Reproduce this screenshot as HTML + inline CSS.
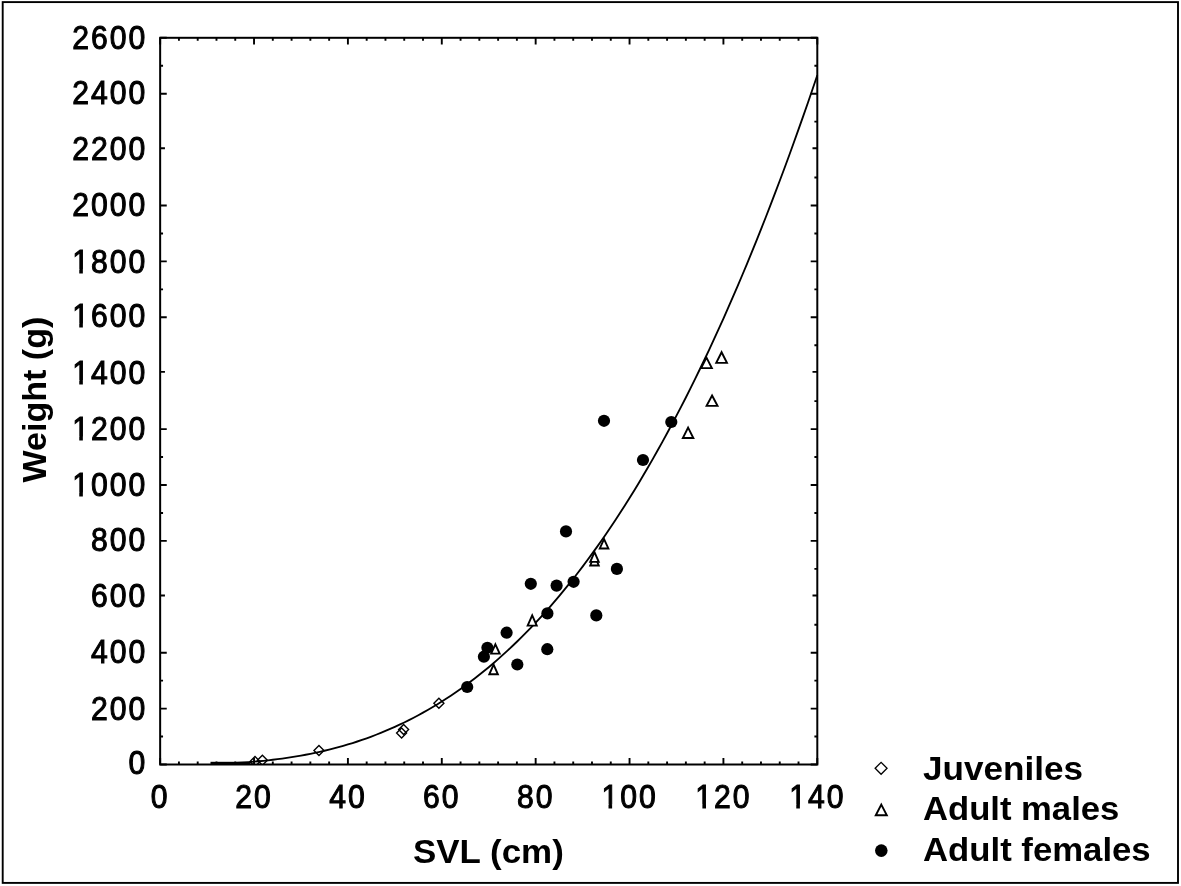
<!DOCTYPE html>
<html><head><meta charset="utf-8"><title>Weight vs SVL</title>
<style>
html,body{margin:0;padding:0;background:#fff;}
svg{display:block;}
text{font-family:"Liberation Sans",sans-serif;fill:#000;}
.tl{font-size:33.5px;stroke:#000;stroke-width:1.05px;letter-spacing:2.2px;}
.b{font-size:33.5px;font-weight:bold;}
</style></head><body>
<svg width="1181" height="886" viewBox="0 0 1181 886">
<rect x="0" y="0" width="1181" height="886" fill="#fff"/>
<rect x="2.7" y="2.1" width="1175.3" height="880.8" fill="none" stroke="#000" stroke-width="1.9"/>
<defs><clipPath id="pc"><rect x="160.15" y="37.80" width="657.15" height="726.70"/></clipPath></defs>
<path d="M160.15 764.50v-6.60M160.15 37.80v6.60M178.93 764.50v-2.90M178.93 37.80v2.90M197.70 764.50v-2.90M197.70 37.80v2.90M216.48 764.50v-2.90M216.48 37.80v2.90M235.25 764.50v-2.90M235.25 37.80v2.90M254.03 764.50v-6.60M254.03 37.80v6.60M272.80 764.50v-2.90M272.80 37.80v2.90M291.58 764.50v-2.90M291.58 37.80v2.90M310.36 764.50v-2.90M310.36 37.80v2.90M329.13 764.50v-2.90M329.13 37.80v2.90M347.91 764.50v-6.60M347.91 37.80v6.60M366.68 764.50v-2.90M366.68 37.80v2.90M385.46 764.50v-2.90M385.46 37.80v2.90M404.23 764.50v-2.90M404.23 37.80v2.90M423.01 764.50v-2.90M423.01 37.80v2.90M441.79 764.50v-6.60M441.79 37.80v6.60M460.56 764.50v-2.90M460.56 37.80v2.90M479.34 764.50v-2.90M479.34 37.80v2.90M498.11 764.50v-2.90M498.11 37.80v2.90M516.89 764.50v-2.90M516.89 37.80v2.90M535.66 764.50v-6.60M535.66 37.80v6.60M554.44 764.50v-2.90M554.44 37.80v2.90M573.22 764.50v-2.90M573.22 37.80v2.90M591.99 764.50v-2.90M591.99 37.80v2.90M610.77 764.50v-2.90M610.77 37.80v2.90M629.54 764.50v-6.60M629.54 37.80v6.60M648.32 764.50v-2.90M648.32 37.80v2.90M667.09 764.50v-2.90M667.09 37.80v2.90M685.87 764.50v-2.90M685.87 37.80v2.90M704.65 764.50v-2.90M704.65 37.80v2.90M723.42 764.50v-6.60M723.42 37.80v6.60M742.20 764.50v-2.90M742.20 37.80v2.90M760.97 764.50v-2.90M760.97 37.80v2.90M779.75 764.50v-2.90M779.75 37.80v2.90M798.52 764.50v-2.90M798.52 37.80v2.90M817.30 764.50v-6.60M817.30 37.80v6.60M817.30 764.50h-6.60M160.15 764.50h6.60M817.30 736.55h-2.90M160.15 736.55h2.90M817.30 708.60h-6.60M160.15 708.60h6.60M817.30 680.65h-2.90M160.15 680.65h2.90M817.30 652.70h-6.60M160.15 652.70h6.60M817.30 624.75h-2.90M817.30 595.50h-4.80M160.15 595.50h4.80M817.30 568.85h-2.90M817.30 540.90h-6.60M160.15 540.90h6.60M817.30 512.95h-2.90M160.15 512.95h2.90M817.30 485.00h-6.60M160.15 485.00h6.60M817.30 457.05h-2.90M160.15 457.05h2.90M817.30 429.10h-6.60M160.15 429.10h6.60M817.30 401.15h-2.90M817.30 371.90h-4.80M160.15 371.90h4.80M817.30 345.25h-2.90M817.30 317.30h-6.60M160.15 317.30h6.60M817.30 289.35h-2.90M160.15 289.35h2.90M817.30 261.40h-6.60M160.15 261.40h6.60M817.30 233.45h-2.90M160.15 233.45h2.90M817.30 205.50h-6.60M160.15 205.50h6.60M817.30 177.55h-2.90M817.30 148.30h-4.80M160.15 148.30h4.80M817.30 121.65h-2.90M817.30 93.70h-6.60M160.15 93.70h6.60M817.30 65.75h-2.90M160.15 65.75h2.90M817.30 37.80h-6.60M160.15 37.80h6.60" stroke="#000" stroke-width="1.9" fill="none"/>
<path d="M211.78 763.98 L216.48 763.83 L221.17 763.66 L225.87 763.47 L230.56 763.24 L235.25 762.99 L239.95 762.71 L244.64 762.40 L249.33 762.05 L254.03 761.67 L258.72 761.25 L263.42 760.80 L268.11 760.30 L272.80 759.76 L277.50 759.19 L282.19 758.56 L286.89 757.89 L291.58 757.18 L296.27 756.42 L300.97 755.61 L305.66 754.74 L310.36 753.83 L315.05 752.86 L319.74 751.83 L324.44 750.75 L329.13 749.62 L333.83 748.42 L338.52 747.16 L343.21 745.84 L347.91 744.46 L352.60 743.01 L357.29 741.50 L361.99 739.92 L366.68 738.27 L371.38 736.55 L376.07 734.76 L380.76 732.90 L385.46 730.96 L390.15 728.95 L394.85 726.86 L399.54 724.70 L404.23 722.46 L408.93 720.13 L413.62 717.73 L418.32 715.24 L423.01 712.67 L427.70 710.01 L432.40 707.27 L437.09 704.44 L441.79 701.52 L446.48 698.51 L451.17 695.41 L455.87 692.22 L460.56 688.93 L465.26 685.55 L469.95 682.07 L474.64 678.49 L479.34 674.82 L484.03 671.04 L488.73 667.17 L493.42 663.19 L498.11 659.11 L502.81 654.92 L507.50 650.63 L512.19 646.23 L516.89 641.72 L521.58 637.10 L526.28 632.38 L530.97 627.54 L535.66 622.58 L540.36 617.52 L545.05 612.33 L549.75 607.03 L554.44 601.62 L559.13 596.08 L563.83 590.43 L568.52 584.65 L573.22 578.75 L577.91 572.73 L582.60 566.58 L587.30 560.31 L591.99 553.91 L596.69 547.38 L601.38 540.72 L606.07 533.93 L610.77 527.01 L615.46 519.96 L620.15 512.77 L624.85 505.45 L629.54 497.99 L634.24 490.40 L638.93 482.66 L643.62 474.79 L648.32 466.78 L653.01 458.62 L657.71 450.32 L662.40 441.88 L667.09 433.29 L671.79 424.56 L676.48 415.68 L681.18 406.65 L685.87 397.47 L690.56 388.14 L695.26 378.66 L699.95 369.02 L704.65 359.24 L709.34 349.29 L714.03 339.19 L718.73 328.93 L723.42 318.52 L728.12 307.94 L732.81 297.21 L737.50 286.31 L742.20 275.25 L746.89 264.02 L751.58 252.63 L756.28 241.08 L760.97 229.36 L765.67 217.47 L770.36 205.41 L775.05 193.17 L779.75 180.77 L784.44 168.20 L789.14 155.45 L793.83 142.53 L798.52 129.43 L803.22 116.15 L807.91 102.70 L812.61 89.07 L817.30 75.25" stroke="#000" stroke-width="1.85" fill="none" stroke-linejoin="round"/>
<rect x="210.5" y="761.8" width="40" height="2.4" fill="#000"/>
<rect x="160.15" y="37.80" width="657.15" height="726.70" fill="none" stroke="#000" stroke-width="2.0"/>
<g clip-path="url(#pc)">
<path d="M250.00 761.60L255.00 756.60L260.00 761.60L255.00 766.60Z" fill="none" stroke="#000" stroke-width="1.4"/>
<path d="M257.40 760.20L262.40 755.20L267.40 760.20L262.40 765.20Z" fill="none" stroke="#000" stroke-width="1.4"/>
<path d="M313.97 750.40L318.97 745.40L323.97 750.40L318.97 755.40Z" fill="none" stroke="#000" stroke-width="1.4"/>
<path d="M396.60 733.00L401.60 728.00L406.60 733.00L401.60 738.00Z" fill="none" stroke="#000" stroke-width="1.4"/>
<path d="M398.60 729.60L403.60 724.60L408.60 729.60L403.60 734.60Z" fill="none" stroke="#000" stroke-width="1.4"/>
<path d="M433.90 703.30L438.90 698.30L443.90 703.30L438.90 708.30Z" fill="none" stroke="#000" stroke-width="1.4"/>
<circle cx="467.20" cy="687.00" r="6.1" fill="#000"/>
<circle cx="483.90" cy="656.70" r="6.1" fill="#000"/>
<circle cx="487.40" cy="647.80" r="6.1" fill="#000"/>
<circle cx="506.60" cy="632.70" r="6.1" fill="#000"/>
<circle cx="517.30" cy="664.50" r="6.1" fill="#000"/>
<circle cx="547.30" cy="649.20" r="6.1" fill="#000"/>
<circle cx="547.40" cy="613.40" r="6.1" fill="#000"/>
<circle cx="530.80" cy="583.80" r="6.1" fill="#000"/>
<circle cx="556.60" cy="585.60" r="6.1" fill="#000"/>
<circle cx="573.60" cy="581.80" r="6.1" fill="#000"/>
<circle cx="566.00" cy="531.40" r="6.1" fill="#000"/>
<circle cx="596.30" cy="615.40" r="6.1" fill="#000"/>
<circle cx="616.90" cy="568.90" r="6.1" fill="#000"/>
<circle cx="604.00" cy="420.80" r="6.1" fill="#000"/>
<circle cx="671.30" cy="422.00" r="6.1" fill="#000"/>
<circle cx="643.00" cy="460.00" r="6.1" fill="#000"/>
<path d="M493.60 664.63L497.89 674.25L489.31 674.25Z" fill="#fff" stroke="#000" stroke-width="1.9" stroke-linejoin="miter" stroke-miterlimit="10"/>
<path d="M495.40 644.29L499.67 653.65L491.13 653.65Z" fill="#fff" stroke="#000" stroke-width="1.9" stroke-linejoin="miter" stroke-miterlimit="10"/>
<path d="M532.20 615.35L536.74 625.65L527.66 625.65Z" fill="#fff" stroke="#000" stroke-width="1.9" stroke-linejoin="miter" stroke-miterlimit="10"/>
<path d="M594.50 555.43L598.76 565.45L590.24 565.45Z" fill="#fff" stroke="#000" stroke-width="1.9" stroke-linejoin="miter" stroke-miterlimit="10"/>
<path d="M594.50 552.17L598.75 561.85L590.25 561.85Z" fill="#fff" stroke="#000" stroke-width="1.9" stroke-linejoin="miter" stroke-miterlimit="10"/>
<path d="M604.06 539.12L608.37 548.45L599.75 548.45Z" fill="#fff" stroke="#000" stroke-width="1.9" stroke-linejoin="miter" stroke-miterlimit="10"/>
<path d="M688.10 427.60L693.35 437.95L682.85 437.95Z" fill="#fff" stroke="#000" stroke-width="1.9" stroke-linejoin="miter" stroke-miterlimit="10"/>
<path d="M712.06 395.44L717.54 405.85L706.58 405.85Z" fill="#fff" stroke="#000" stroke-width="1.9" stroke-linejoin="miter" stroke-miterlimit="10"/>
<path d="M706.50 357.60L711.85 368.15L701.15 368.15Z" fill="#fff" stroke="#000" stroke-width="1.9" stroke-linejoin="miter" stroke-miterlimit="10"/>
<path d="M721.60 352.21L726.96 362.85L716.24 362.85Z" fill="#fff" stroke="#000" stroke-width="1.9" stroke-linejoin="miter" stroke-miterlimit="10"/>
</g>
<g transform="translate(145.15,774.00) scale(0.9,1.0)"><text class="tl" x="2.2" text-anchor="end">0</text></g>
<g transform="translate(145.15,719.60) scale(0.9,1.0)"><text class="tl" x="2.2" text-anchor="end">200</text></g>
<g transform="translate(145.15,663.30) scale(0.9,1.0)"><text class="tl" x="2.2" text-anchor="end">400</text></g>
<g transform="translate(145.15,606.90) scale(0.9,1.0)"><text class="tl" x="2.2" text-anchor="end">600</text></g>
<g transform="translate(145.15,550.50) scale(0.9,1.0)"><text class="tl" x="2.2" text-anchor="end">800</text></g>
<g transform="translate(145.15,496.00) scale(0.9,1.0)"><text class="tl" x="2.2" text-anchor="end">1000</text><path d="M-80.10 -3.38H-73.22V3H-80.10ZM-69.22 -3.38H-62.60V3H-69.22Z" fill="#fff"/></g>
<g transform="translate(145.15,439.80) scale(0.9,1.0)"><text class="tl" x="2.2" text-anchor="end">1200</text><path d="M-80.10 -3.38H-73.22V3H-80.10ZM-69.22 -3.38H-62.60V3H-69.22Z" fill="#fff"/></g>
<g transform="translate(145.15,383.50) scale(0.9,1.0)"><text class="tl" x="2.2" text-anchor="end">1400</text><path d="M-80.10 -3.38H-73.22V3H-80.10ZM-69.22 -3.38H-62.60V3H-69.22Z" fill="#fff"/></g>
<g transform="translate(145.15,327.00) scale(0.9,1.0)"><text class="tl" x="2.2" text-anchor="end">1600</text><path d="M-80.10 -3.38H-73.22V3H-80.10ZM-69.22 -3.38H-62.60V3H-69.22Z" fill="#fff"/></g>
<g transform="translate(145.15,272.60) scale(0.9,1.0)"><text class="tl" x="2.2" text-anchor="end">1800</text><path d="M-80.10 -3.38H-73.22V3H-80.10ZM-69.22 -3.38H-62.60V3H-69.22Z" fill="#fff"/></g>
<g transform="translate(145.15,216.30) scale(0.9,1.0)"><text class="tl" x="2.2" text-anchor="end">2000</text></g>
<g transform="translate(145.15,160.00) scale(0.9,1.0)"><text class="tl" x="2.2" text-anchor="end">2200</text></g>
<g transform="translate(145.15,103.70) scale(0.9,1.0)"><text class="tl" x="2.2" text-anchor="end">2400</text></g>
<g transform="translate(145.15,49.20) scale(0.9,1.0)"><text class="tl" x="2.2" text-anchor="end">2600</text></g>
<g transform="translate(159.15,808.00) scale(0.9,1.0)"><text class="tl" x="1.1" text-anchor="middle">0</text></g>
<g transform="translate(253.03,808.00) scale(0.9,1.0)"><text class="tl" x="1.1" text-anchor="middle">20</text></g>
<g transform="translate(346.91,808.00) scale(0.9,1.0)"><text class="tl" x="1.1" text-anchor="middle">40</text></g>
<g transform="translate(440.79,808.00) scale(0.9,1.0)"><text class="tl" x="1.1" text-anchor="middle">60</text></g>
<g transform="translate(534.66,808.00) scale(0.9,1.0)"><text class="tl" x="1.1" text-anchor="middle">80</text></g>
<g transform="translate(628.54,808.00) scale(0.9,1.0)"><text class="tl" x="1.1" text-anchor="middle">100</text><path d="M-29.12 -3.38H-22.25V3H-29.12ZM-18.24 -3.38H-11.63V3H-18.24Z" fill="#fff"/></g>
<g transform="translate(722.42,808.00) scale(0.9,1.0)"><text class="tl" x="1.1" text-anchor="middle">120</text><path d="M-29.12 -3.38H-22.25V3H-29.12ZM-18.24 -3.38H-11.63V3H-18.24Z" fill="#fff"/></g>
<g transform="translate(816.30,808.00) scale(0.9,1.0)"><text class="tl" x="1.1" text-anchor="middle">140</text><path d="M-29.12 -3.38H-22.25V3H-29.12ZM-18.24 -3.38H-11.63V3H-18.24Z" fill="#fff"/></g>
<text class="b" transform="translate(413.0,862.6) scale(1.043,1)">SVL (cm)</text>
<text class="b" transform="translate(46.2,482.5) rotate(-90) scale(1.017,1)">Weight (g)</text>
<path d="M875.15 768.30L881.10 762.35L887.05 768.30L881.10 774.25Z" fill="none" stroke="#000" stroke-width="1.3"/>
<path d="M881.30 804.65L886.83 815.25L875.77 815.25Z" fill="#fff" stroke="#000" stroke-width="1.9" stroke-linejoin="miter" stroke-miterlimit="10"/>
<circle cx="881.30" cy="850.60" r="6.3" fill="#000"/>
<text class="b" transform="translate(923.0,779.7) scale(1.048,1)">Juveniles</text>
<text class="b" transform="translate(923.0,819.7) scale(1.034,1)">Adult males</text>
<text class="b" transform="translate(923.0,860.5) scale(1.037,1)">Adult females</text>
</svg></body></html>
